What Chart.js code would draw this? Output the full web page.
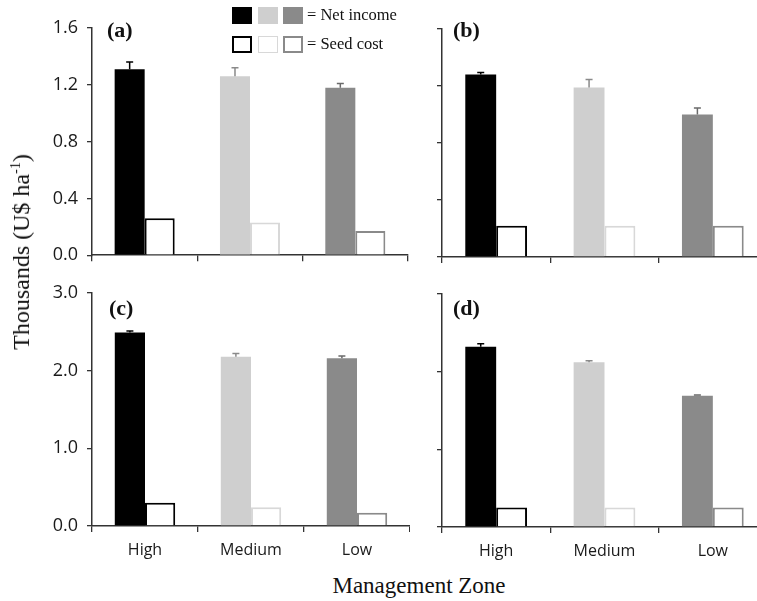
<!DOCTYPE html>
<html>
<head>
<meta charset="utf-8">
<script src="https://cdn.jsdelivr.net/npm/chart.js@4.4.1/dist/chart.umd.min.js"></script>
<style>
  html, body { margin:0; padding:0; background:#fff; }
  #wrap { position:relative; width:757px; height:601px; overflow:hidden; background:#fff; }
  .pc { position:absolute; }
  .txt { position:absolute; font-family:'Liberation Serif','Times New Roman',serif; color:#111; white-space:nowrap; }
  .plabel { font-weight:bold; font-size:22px; line-height:1; }
  .sq { position:absolute; width:20px; height:17px; box-sizing:border-box; }
</style>
</head>
<body>
<div id="wrap">
  <div class="pc" style="left:0;top:0;width:410px;height:275px;"><canvas id="ca"></canvas></div>
  <div class="pc" style="left:410px;top:0;width:357px;height:275px;"><canvas id="cb"></canvas></div>
  <div class="pc" style="left:0;top:270px;width:410px;height:300px;"><canvas id="cc"></canvas></div>
  <div class="pc" style="left:410px;top:270px;width:357px;height:300px;"><canvas id="cd"></canvas></div>

  <div class="txt plabel" style="left:107px;top:19px;">(a)</div>
  <div class="txt plabel" style="left:453px;top:19px;">(b)</div>
  <div class="txt plabel" style="left:109px;top:297px;">(c)</div>
  <div class="txt plabel" style="left:453px;top:297px;">(d)</div>

  <!-- legend -->
  <div class="sq" style="left:232px;top:7px;background:#000;"></div>
  <div class="sq" style="left:258px;top:7px;background:#cfcfcf;"></div>
  <div class="sq" style="left:283px;top:7px;background:#8a8a8a;"></div>
  <div class="txt" style="left:307px;top:6px;font-size:16.5px;line-height:18px;">= Net income</div>
  <div class="sq" style="left:232px;top:36px;border:2.5px solid #000;background:#fff;"></div>
  <div class="sq" style="left:258px;top:36px;border:1.5px solid #d8d8d8;background:#fff;"></div>
  <div class="sq" style="left:283px;top:36px;border:2px solid #8a8a8a;background:#fff;"></div>
  <div class="txt" style="left:307px;top:35px;font-size:16.5px;line-height:18px;">= Seed cost</div>

  <div class="txt" style="left:21px;top:252px;font-size:24px;line-height:1;transform:translate(-50%,-50%) rotate(-90deg);">Thousands (U$ ha<sup style="font-size:14px;vertical-align:9px;">-1</sup>)</div>
  <div class="txt" style="left:419px;top:574px;font-size:23px;line-height:1;transform:translateX(-50%);">Management Zone</div>
</div>
<script>
const zones = ['High', 'Medium', 'Low'];

// Panel (a)
const netA  = [1.31, 1.26, 1.18];
const errA  = [0.05, 0.06, 0.03];
const seedA = [0.26, 0.23, 0.17];
// Panel (b)
const netB  = [1.28, 1.19, 1.00];
const errB  = [0.015, 0.055, 0.045];
const seedB = [0.22, 0.22, 0.22];
// Panel (c)
const netC  = [2.49, 2.18, 2.16];
const errC  = [0.02, 0.04, 0.03];
const seedC = [0.30, 0.24, 0.17];
// Panel (d)
const netD  = [2.32, 2.12, 1.69];
const errD  = [0.04, 0.02, 0.01];
const seedD = [0.25, 0.25, 0.25];

const yTicksTop = [0, 0.4, 0.8, 1.2, 1.6];
const yTicksBottom = [0, 1, 2, 3];

const fillColors = ['#000000', '#cfcfcf', '#8a8a8a'];
const edgeColors = ['#000000', '#d8d8d8', '#8a8a8a'];
const errColors  = ['#000000', '#8a8a8a', '#6a6a6a'];

const errorBarPlugin = {
  id: 'errorBars',
  afterDatasetsDraw(chart, args, opts) {
    const meta = chart.getDatasetMeta(0);
    const ys = chart.scales.y;
    const ctx = chart.ctx;
    const vals = chart.data.datasets[0].data;
    ctx.save();
    meta.data.forEach((bar, i) => {
      const top = ys.getPixelForValue(vals[i] + opts.errors[i]);
      const bot = bar.y;
      ctx.strokeStyle = opts.colors[i];
      ctx.lineWidth = 1.5;
      ctx.beginPath();
      ctx.moveTo(bar.x, bot);
      ctx.lineTo(bar.x, top);
      ctx.moveTo(bar.x - 3.5, top);
      ctx.lineTo(bar.x + 3.5, top);
      ctx.stroke();
    });
    ctx.restore();
  }
};

function makePanel(id, net, err, seed, ticksArr, opt) {
  const yMax = ticksArr[ticksArr.length - 1];
  const step = ticksArr[1] - ticksArr[0];
  new Chart(document.getElementById(id), {
    type: 'bar',
    data: {
      labels: zones,
      datasets: [
        { label: 'Net income', data: net, backgroundColor: fillColors, borderWidth: 0 },
        { label: 'Seed cost', data: seed, backgroundColor: '#ffffff', borderColor: edgeColors, borderWidth: 2, borderSkipped: 'bottom' }
      ]
    },
    plugins: [errorBarPlugin],
    options: {
      responsive: true,
      maintainAspectRatio: false,
      animation: false,
      events: [],
      datasets: { bar: { categoryPercentage: 0.57, barPercentage: 1.0 } },
      layout: { padding: { top: opt.padTop, right: opt.padRight, bottom: 0, left: 0 } },
      plugins: {
        legend: { display: false },
        tooltip: { enabled: false },
        title: { display: false },
        errorBars: { errors: err, colors: errColors }
      },
      scales: {
        x: {
          grid: { offset: true, drawOnChartArea: false, drawTicks: true, tickLength: 6, color: '#333', lineWidth: 1.3 },
          border: { display: true, color: '#333', width: 1.5 },
          ticks: { display: opt.showX, color: '#1a1a1a', padding: 9, font: { family: "'Open Sans', sans-serif", size: 16 } },
          afterFit: (s) => { s.height = opt.xHeight; }
        },
        y: {
          min: 0, max: yMax,
          grid: { drawOnChartArea: false, drawTicks: true, tickLength: 5, color: '#333', lineWidth: 1.3 },
          border: { display: true, color: '#333', width: 1.5 },
          ticks: {
            display: opt.showY, stepSize: step, padding: 9, color: '#1a1a1a',
            font: { family: "'Open Sans', sans-serif", size: 18 },
            callback: (v) => Number(v).toFixed(1)
          },
          afterFit: (s) => { s.width = opt.yWidth; }
        }
      }
    }
  });
}

makePanel('ca', netA, errA, seedA, yTicksTop,    { padTop: 28, padRight: 2, xHeight: 19, yWidth: 92, showX: false, showY: true });
makePanel('cb', netB, errB, seedB, yTicksTop,    { padTop: 29, padRight: 0, xHeight: 18, yWidth: 32, showX: false, showY: false });
makePanel('cc', netC, errC, seedC, yTicksBottom, { padTop: 23, padRight: 0, xHeight: 44, yWidth: 92, showX: true,  showY: true });
makePanel('cd', netD, errD, seedD, yTicksBottom, { padTop: 24, padRight: 0, xHeight: 43, yWidth: 32, showX: true,  showY: false });
</script>
</body>
</html>
